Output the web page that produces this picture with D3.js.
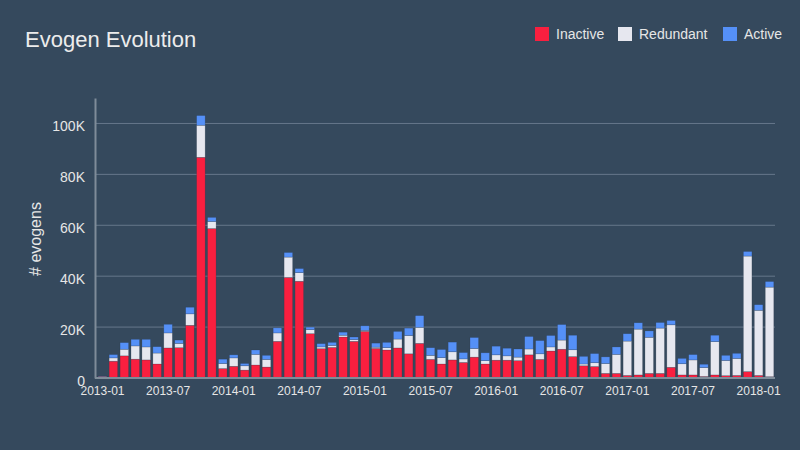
<!DOCTYPE html>
<html><head><meta charset="utf-8">
<script src="https://cdn.jsdelivr.net/npm/d3@7"></script>
<style>
html,body{margin:0;padding:0;background:#35495d;}
svg{display:block;font-family:"Liberation Sans",Arial,sans-serif;}
</style></head>
<body><svg id="c" width="800" height="450"></svg>
<script>
const months = ["2013-01","2013-02","2013-03","2013-04","2013-05","2013-06","2013-07","2013-08","2013-09","2013-10","2013-11","2013-12",
"2014-01","2014-02","2014-03","2014-04","2014-05","2014-06","2014-07","2014-08","2014-09","2014-10","2014-11","2014-12",
"2015-01","2015-02","2015-03","2015-04","2015-05","2015-06","2015-07","2015-08","2015-09","2015-10","2015-11","2015-12",
"2016-01","2016-02","2016-03","2016-04","2016-05","2016-06","2016-07","2016-08","2016-09","2016-10","2016-11","2016-12",
"2017-01","2017-02","2017-03","2017-04","2017-05","2017-06","2017-07","2017-08","2017-09","2017-10","2017-11","2017-12",
"2018-01","2018-02"];
const inactive = [0.6,6.6,8.7,7.4,7.1,5.5,11.8,11.9,20.7,86.7,58.7,3.7,
4.6,3.1,5.1,4.3,14.4,39.5,38.0,17.4,11.5,12.0,16.1,14.4,
18.3,11.6,11.0,11.8,9.5,13.6,7.3,5.5,7.1,6.1,8.2,5.5,
7.0,7.0,6.8,9.1,7.3,10.6,11.3,8.4,4.8,4.5,1.8,1.8,
1.0,1.2,1.8,1.8,4.2,1.2,1.2,0.6,1.2,0.9,1.0,2.5,
1.0,0.5];
const redundant = [0.1,1.3,2.6,5.2,5.1,4.3,5.9,1.7,4.5,12.6,2.8,2.0,
3.3,1.7,4.2,3.0,3.3,8.0,3.4,1.6,0.7,0.8,0.7,0.7,
0.4,0.5,0.9,3.5,7.2,6.3,1.6,2.5,3.2,1.4,3.4,1.3,
2.1,1.7,1.4,2.3,2.2,1.6,3.6,2.7,0.7,1.5,3.9,7.5,
13.5,18.0,14.2,17.8,16.7,4.4,5.9,3.5,13.1,6.0,6.7,45.4,
25.6,35.2];
const active = [0.1,1.3,2.6,2.6,3.0,2.5,3.4,1.3,2.6,3.8,1.6,1.7,
1.2,0.9,1.7,1.6,2.0,1.8,1.6,1.0,1.3,1.2,1.2,1.0,
1.8,1.6,2.1,3.0,2.9,4.6,3.0,3.2,3.8,2.5,4.3,3.1,
3.4,3.0,3.2,4.9,5.2,4.5,6.1,5.7,3.0,3.6,2.6,2.9,
2.9,2.5,2.5,2.2,1.7,2.1,2.1,1.3,2.5,2.0,2.0,1.8,
2.2,2.2];
const seriesNames = ["Inactive","Redundant","Active"];
const colors = ["#f91f3f","#e6e7ef","#5590f7"];
const yTicks = [0,20,40,60,80,100];
const xTickLabels = ["2013-01","2013-07","2014-01","2014-07","2015-01","2015-07","2016-01","2016-07","2017-01","2017-07","2018-01"];

const svg = d3.select("#c");
const W=800,H=450;
svg.append("rect").attr("width",W).attr("height",H).attr("fill","#35495d");

const x = d3.scaleBand().domain(months).range([97,775]).paddingInner(0.22).paddingOuter(0.11);
const y = d3.scaleLinear().domain([0,110]).range([378,98]);

// grid
svg.append("g").selectAll("line").data(yTicks.filter(d=>d>0)).join("line")
  .attr("x1",95).attr("x2",775).attr("y1",d=>y(d)).attr("y2",d=>y(d))
  .attr("stroke","#66778a").attr("stroke-width",1);

// stacked data
const rows = months.map((m,i)=>({m, Inactive:inactive[i], Redundant:redundant[i], Active:active[i]}));
const stack = d3.stack().keys(seriesNames)(rows);
svg.append("g").selectAll("g").data(stack).join("g")
  .attr("fill",(d,i)=>colors[i])
  .selectAll("rect").data(d=>d).join("rect")
  .attr("x",d=>x(d.data.m)).attr("width",x.bandwidth())
  .attr("y",d=>y(d[1])).attr("height",d=>Math.max(0,y(d[0])-y(d[1])))
  .attr("stroke","rgba(40,55,72,0.35)").attr("stroke-width",0.6);

// axes
const yAxis = d3.axisLeft(y).tickValues(yTicks).tickFormat(d=>d===0?"0":d+"K").tickSize(0).tickPadding(10);
const gy = svg.append("g").attr("transform","translate(95,0)").call(yAxis);
gy.select(".domain").attr("stroke","#7f8c99").attr("stroke-width",2);
gy.selectAll("text").attr("fill","#e6e6e6").attr("font-size",14).attr("font-family","Liberation Sans, Arial, sans-serif")
  .attr("dy","0.52em");

const xAxis = d3.axisBottom(x).tickValues(xTickLabels).tickSize(0).tickPadding(8);
const gx = svg.append("g").attr("transform","translate(0,378)").call(xAxis);
gx.select(".domain").attr("d","M95,0H775").attr("stroke","#7f8c99").attr("stroke-width",2);
gx.selectAll("text").attr("fill","#e6e6e6").attr("font-size",12).attr("font-family","Liberation Sans, Arial, sans-serif");

// title
svg.append("text").attr("x",25).attr("y",47).text("Evogen Evolution")
  .attr("fill","#ececec").attr("font-size",22);

// y label
svg.append("text").attr("transform","translate(41,239) rotate(-90)").attr("text-anchor","middle")
  .text("# evogens").attr("fill","#e6e6e6").attr("font-size",16);

// legend
const legendX = [535,618,723];
const lg = svg.append("g").selectAll("g").data(seriesNames).join("g")
  .attr("transform",(d,i)=>`translate(${legendX[i]},27)`);
lg.append("rect").attr("width",14).attr("height",14).attr("fill",(d,i)=>colors[i]);
lg.append("text").attr("x",21).attr("y",12).text(d=>d).attr("fill","#e6e6e6").attr("font-size",14);
</script></body></html>
